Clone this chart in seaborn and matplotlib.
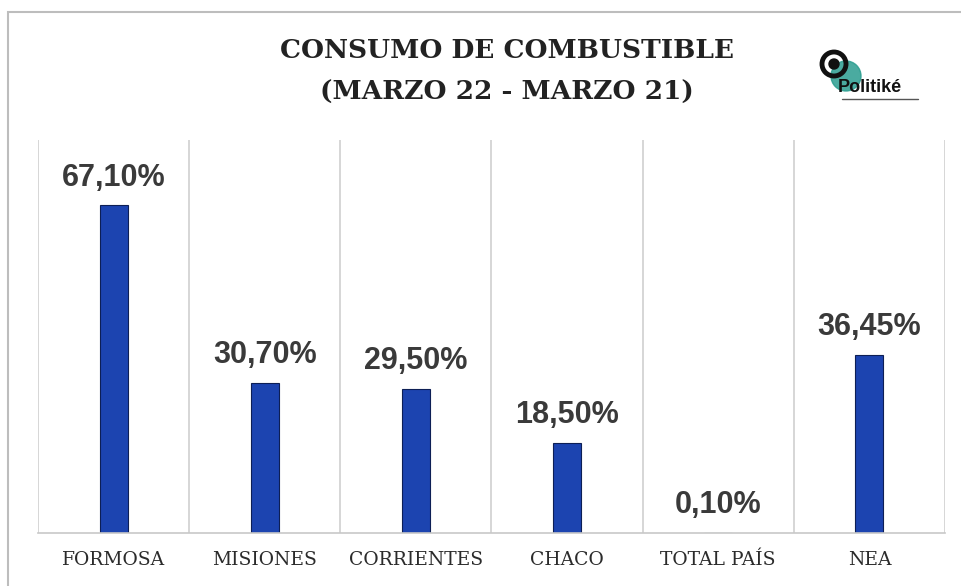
import matplotlib
matplotlib.use("Agg")
import matplotlib.pyplot as plt
import seaborn as sns
import pandas as pd
from matplotlib.patches import Rectangle, Circle

categories = ["FORMOSA", "MISIONES", "CORRIENTES", "CHACO", "TOTAL PAÍS", "NEA"]
values = [67.10, 30.70, 29.50, 18.50, 0.10, 36.45]
labels = ["67,10%", "30,70%", "29,50%", "18,50%", "0,10%", "36,45%"]

sns.set_theme(style="white")
plt.rcParams['font.family'] = ['DejaVu Sans']

df = pd.DataFrame({"cat": categories, "val": values})

fig = plt.figure(figsize=(9.61, 5.86), dpi=100)
fig.patch.set_facecolor("white")
# outer frame
fig.patches.append(Rectangle((8/961, -0.01), 1.0, (586-12)/586 + 0.01, transform=fig.transFigure,
                             fill=False, edgecolor="#bdbdbd", linewidth=1.5))

ax = fig.add_axes([38/961, 53/586, (945-38)/961, (533-140)/586])
sns.barplot(data=df, x="cat", y="val", ax=ax, color="#1c44b0", width=0.185,
            edgecolor="#0d1f55", linewidth=0.8, saturation=1)
ax.set_xlim(-0.5, 5.5)
ax.set_ylim(0, 80.4)
ax.set_yticks([])
ax.set_xlabel("")
ax.set_ylabel("")
for s in ["top", "left", "right"]:
    ax.spines[s].set_visible(False)
ax.spines["bottom"].set_color("#c8c8c8")
ax.spines["bottom"].set_linewidth(1.2)
for xv in [-0.5 + i for i in range(7)]:
    ax.axvline(xv, color="#d0d0d0", linewidth=1.2, zorder=0)
ax.tick_params(axis="x", length=0, pad=13)
ax.set_xticks(range(len(categories)))
ax.set_xticklabels(categories, fontfamily="DejaVu Serif", fontsize=13.5, color="#2b2b2b")

for i, (v, lab) in enumerate(zip(values, labels)):
    ax.annotate(lab, (i, v), xytext=(0, 9), textcoords="offset points",
                ha="center", va="bottom", fontsize=22, fontweight="bold",
                color="#3a3a3a", fontfamily="Liberation Sans")

fig.text(507/961, 1 - 50/586, "CONSUMO DE COMBUSTIBLE", ha="center", va="center",
         fontsize=19, fontweight="bold", fontfamily="DejaVu Serif", color="#222222")
fig.text(507/961, 1 - 92/586, "(MARZO 22 - MARZO 21)", ha="center", va="center",
         fontsize=19, fontweight="bold", fontfamily="DejaVu Serif", color="#222222")

# logo
lax = fig.add_axes([800/961, 1 - 115/586, 140/961, 80/586])
lax.set_xlim(800, 940)
lax.set_ylim(115, 35)
lax.axis("off")
lax.add_patch(Circle((846, 76), 15, color="#2a9d8f", alpha=0.85))
lax.add_patch(Circle((834, 64), 12, fill=False, edgecolor="#111111", linewidth=3.5))
lax.add_patch(Circle((834, 64), 5, color="#111111"))
lax.text(838, 88, "Politiké", fontsize=13, fontweight="bold", color="#111111",
         va="center", ha="left", fontfamily="Liberation Sans")
lax.plot([842, 918], [99, 99], color="#555555", linewidth=1)

fig.savefig("out.png", dpi=100)
